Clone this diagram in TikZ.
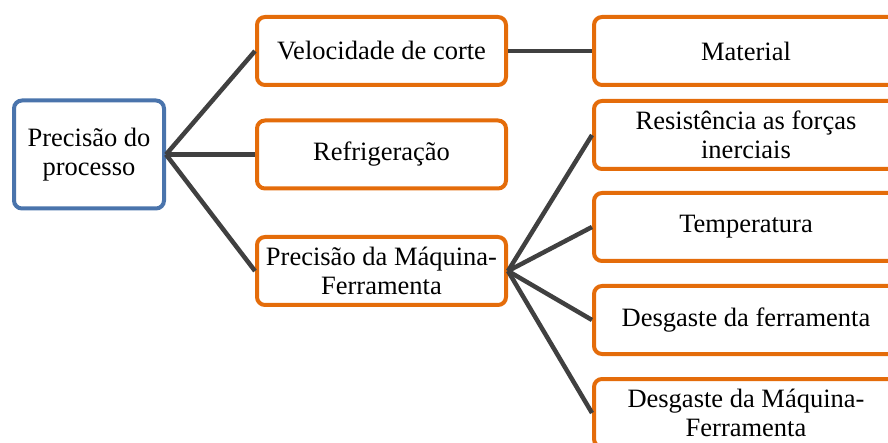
\documentclass[tikz,border=0pt]{standalone}
\usepackage{fontspec}
\setmainfont{Liberation Serif}
\newfontfamily\boxfont{Liberation Serif}
\usetikzlibrary{
  positioning
}
\definecolor{boxorange}{HTML}{E46C0A}
\definecolor{boxblue}{HTML}{4A74AC}
\definecolor{linkgray}{HTML}{404040}
\tikzset{
  every node/.style={draw, align=center, rounded corners=8pt, line width=4pt,
    fill=white, inner sep=0pt, font=\boxfont\fontsize{26.5}{29}\selectfont},
  topic/.style={draw=boxblue, minimum width=150pt, minimum height=108pt},
  branch/.style={draw=boxorange, minimum width=249pt, minimum height=68pt},
  leaf/.style={draw=boxorange, minimum width=304pt, minimum height=68pt},
  link/.style={draw=linkgray, line width=4.5pt},
}

\begin{document}
\begin{tikzpicture}[x=1pt, y=-1pt]
      \useasboundingbox (0,0) rectangle (888,443);
      \clip (0,0) rectangle (888,443);
      \node (proc) [topic] at (89,154.5) {Precisão do\\processo};
      \node (vel) [branch] at (381.5,51) {Velocidade de corte};
      \node (refr) [branch] at (381.5,154.5) {Refrigeração};
      \node (pmf) [branch] at (381.5,271) {Precisão da Máquina-\\Ferramenta};
      \node (mat) [leaf] at (746,51) {Material};
      \node (res) [leaf] at (746,135) {Resistência as forças\\inerciais};
      \node (temp) [leaf] at (746,227) {Temperatura};
      \node (desf) [leaf] at (746,320) {Desgaste da ferramenta};
      \node (desm) [leaf] at (746,413) {Desgaste da Máquina-\\Ferramenta};

      \draw[link] (proc.east) -- (vel.west);
      \draw[link] (proc.east) -- (refr.west);
      \draw[link] (proc.east) -- (pmf.west);
      \draw[link] (vel.east) -- (mat.west);
      \draw[link] (pmf.east) -- (res.west);
      \draw[link] (pmf.east) -- (temp.west);
      \draw[link] (pmf.east) -- (desf.west);
      \draw[link] (pmf.east) -- (desm.west);
    \end{tikzpicture}
\end{document}
